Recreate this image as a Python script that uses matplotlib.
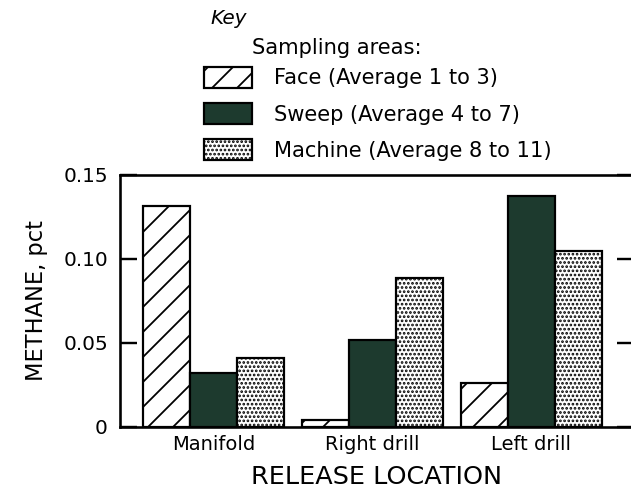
import numpy as np
import matplotlib
matplotlib.use("Agg")
import matplotlib.pyplot as plt

# render at 150 dpi so that the hatch spacing comes out wide like the original
DPI = 150
W, H = 632, 495


def pt(px):
    # pixel size -> points at this dpi
    return px * 72.0 / DPI


locations = ["Manifold", "Right drill", "Left drill"]
face = [0.1315, 0.004, 0.026]
sweep = [0.032, 0.052, 0.1375]
machine = [0.041, 0.0885, 0.105]
series_labels = ["Face (Average 1 to 3)", "Sweep (Average 4 to 7)",
                 "Machine (Average 8 to 11)"]
yticks = [0, 0.05, 0.10, 0.15]
ytick_labels = ["0", "0.05", "0.10", "0.15"]

dark = "#1d3a2e"
plt.rcParams["hatch.linewidth"] = pt(1.8)
plt.rcParams["font.family"] = "DejaVu Sans"

fig = plt.figure(figsize=(W / DPI, H / DPI), dpi=DPI)
ax = fig.add_axes([120 / W, 1 - 427 / H, 514 / W, 252 / H])

x = np.arange(len(locations))
w = 0.296
lw = pt(2.2)
b1 = ax.bar(x - w, face, w, facecolor="white", edgecolor="black",
            hatch="//", linewidth=lw, label=series_labels[0])
b2 = ax.bar(x, sweep, w, facecolor=dark, edgecolor="black",
            linewidth=lw, label=series_labels[1])
b3 = ax.bar(x + w, machine, w, facecolor="white", edgecolor="black",
            hatch="......", linewidth=lw, label=series_labels[2])

ax.set_xlim(-0.588, 2.645)
ax.set_ylim(0, 0.15)
ax.set_yticks(yticks)
ax.set_yticklabels(ytick_labels)
ax.set_xticks(x)
ax.set_xticklabels(locations)

for s in ax.spines.values():
    s.set_linewidth(pt(2.6))
ax.tick_params(axis="y", direction="in", length=pt(17), width=pt(2.4),
               right=True, labelsize=pt(20), pad=pt(12))
ax.tick_params(axis="x", length=0, labelsize=pt(19.5), pad=pt(8))

ax.set_xlabel("RELEASE LOCATION", fontsize=pt(25.5), labelpad=pt(11))
ax.set_ylabel("METHANE, pct", fontsize=pt(22.5), labelpad=pt(15))

fig.text(210 / W, 1 - 18 / H, "Key", fontsize=pt(20), style="italic",
         ha="left", va="center")
fig.text(252 / W, 1 - 48 / H, "Sampling areas:", fontsize=pt(21),
         ha="left", va="center")

fs = 21
fig.legend(handles=[b1, b2, b3], loc="upper left",
           bbox_to_anchor=(204 / W, 1 - 67 / H), frameon=False,
           fontsize=pt(fs), borderpad=0, borderaxespad=0,
           handlelength=48 / fs, handleheight=24 / fs,
           handletextpad=22 / fs, labelspacing=0.7)

fig.savefig("out.png", dpi=DPI)
